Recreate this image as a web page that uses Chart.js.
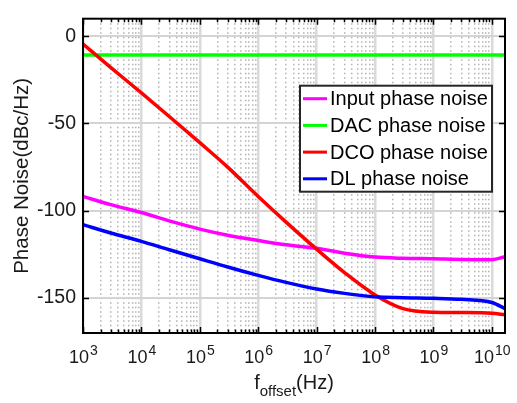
<!DOCTYPE html>
<html>
<head>
<meta charset="utf-8">
<script src="https://cdn.jsdelivr.net/npm/chart.js@4.4.1/dist/chart.umd.min.js"></script>
<style>
  html, body { margin: 0; padding: 0; background: #fff; }
  #wrap { width: 517px; height: 403px; }
</style>
</head>
<body>
<div id="wrap"><canvas id="pnChart" width="517" height="403"></canvas></div>
<script>
const freqs = [1e3, 3e3, 1e4, 3e4, 1e5, 3e5, 1e6, 3e6, 1e7, 3e7, 1e8, 3e8, 1e9, 3e9, 1e10, 1.68e10];

// phase noise, dBc/Hz
const inputPN = [-91.8, -96.5, -101, -105.8, -110.5, -114, -117, -119.5, -121.5, -124.3, -126.5, -127.2, -127.5, -127.9, -128, -126.3];
const dacPN   = [-10.8, -10.8, -10.8, -10.8, -10.8, -10.8, -10.8, -10.8, -10.8, -10.8, -10.8, -10.8, -10.8, -10.8, -10.8, -10.8];
const dcoPN   = [-4.5, -18, -32.5, -46, -61, -75, -91.8, -106.5, -122, -135.4, -148.2, -156, -158.1, -158.3, -158.7, -159.5];
const dlPN    = [-108, -112.7, -117.5, -122.3, -127.5, -132.2, -137, -141, -144.8, -147.3, -149.3, -149.8, -150.1, -150.7, -152.5, -156];

const seriesNames = ["Input phase noise", "DAC phase noise", "DCO phase noise", "DL phase noise"];
const seriesColors = ["#ff00ff", "#00ff00", "#ff0000", "#0000ff"];

const xDecades = [3, 4, 5, 6, 7, 8, 9, 10];
const yTicks = [-150, -100, -50, 0];

const FONT = "'Liberation Sans', Arial, Helvetica, sans-serif";

// all log ticks 1..9 x 10^n inside the axis range
const xAllTicks = [];
xDecades.forEach(e => {
  for (let m = 1; m <= 9; m++) {
    const v = m * Math.pow(10, e);
    if (v <= 1.68e10) xAllTicks.push(v);
  }
});
const isDecade = v => Math.abs(Math.log10(v) - Math.round(Math.log10(v))) < 1e-9;

const toPts = arr => arr.map((y, i) => ({ x: freqs[i], y: y }));
const allSeries = [inputPN, dacPN, dcoPN, dlPN];

const datasets = allSeries.map((arr, i) => ({
  label: seriesNames[i],
  data: toPts(arr),
  borderColor: seriesColors[i],
  backgroundColor: seriesColors[i],
  borderWidth: 3.5,
  pointRadius: 0,
  cubicInterpolationMode: "monotone",
  order: 3 - i   // last series drawn on top
}));

const framePlugin = {
  id: "frame",
  afterDatasetsDraw(chart) {
    const { ctx, chartArea: a, scales: { x, y } } = chart;
    ctx.save();
    ctx.strokeStyle = "#000";
    ctx.lineWidth = 2;
    ctx.strokeRect(a.left, a.top, a.right - a.left, a.bottom - a.top);

    // inward ticks
    ctx.lineWidth = 1.5;
    ctx.beginPath();
    xAllTicks.forEach(v => {
      const px = Math.round(x.getPixelForValue(v)) + 0.5;
      const len = isDecade(v) ? 6 : 3.5;
      ctx.moveTo(px, a.bottom); ctx.lineTo(px, a.bottom - len);
      ctx.moveTo(px, a.top); ctx.lineTo(px, a.top + len);
    });
    yTicks.forEach(v => {
      const py = Math.round(y.getPixelForValue(v)) + 0.5;
      ctx.moveTo(a.left, py); ctx.lineTo(a.left + 6, py);
      ctx.moveTo(a.right, py); ctx.lineTo(a.right - 6, py);
    });
    ctx.stroke();
    ctx.restore();
  },
  afterDraw(chart) {
    const { ctx, chartArea: a, scales: { x } } = chart;
    ctx.save();
    ctx.fillStyle = "#1a1a1a";
    ctx.textBaseline = "alphabetic";
    ctx.textAlign = "left";

    // x tick labels 10^n
    xDecades.forEach(e => {
      const px = x.getPixelForValue(Math.pow(10, e));
      ctx.font = "18px " + FONT;
      const wb = ctx.measureText("10").width;
      ctx.font = "14px " + FONT;
      const we = ctx.measureText(String(e)).width;
      const start = px - (wb + we) / 2;
      ctx.font = "18px " + FONT;
      ctx.fillText("10", start, a.bottom + 30);
      ctx.font = "14px " + FONT;
      ctx.fillText(String(e), start + wb + 1, a.bottom + 22);
    });

    // x axis title f_offset(Hz)
    ctx.font = "20px " + FONT;
    const wf = ctx.measureText("f").width;
    const wh = ctx.measureText("(Hz)").width;
    ctx.font = "15px " + FONT;
    const ws = ctx.measureText("offset").width;
    const cx = (a.left + a.right) / 2;
    let tx = cx - (wf + ws + wh) / 2;
    ctx.font = "20px " + FONT;
    ctx.fillText("f", tx, a.bottom + 56);
    ctx.font = "15px " + FONT;
    ctx.fillText("offset", tx + wf, a.bottom + 63);
    ctx.font = "20px " + FONT;
    ctx.fillText("(Hz)", tx + wf + ws, a.bottom + 56);

    // legend box
    const lw = 192, lh = 106;
    const lx = a.right - 13 - lw, ly = a.top + 67;
    ctx.fillStyle = "#fff";
    ctx.fillRect(lx, ly, lw, lh);
    ctx.strokeStyle = "#262626";
    ctx.lineWidth = 2;
    ctx.strokeRect(lx, ly, lw, lh);
    ctx.font = "20px " + FONT;
    ctx.textBaseline = "middle";
    chart.data.datasets.forEach((ds, i) => {
      const rowY = ly + 13 + i * 26.7;
      ctx.strokeStyle = ds.borderColor;
      ctx.lineWidth = 3;
      ctx.beginPath();
      ctx.moveTo(lx + 3, rowY); ctx.lineTo(lx + 27, rowY);
      ctx.stroke();
      ctx.fillStyle = "#000";
      ctx.fillText(ds.label, lx + 30, rowY + 1);
    });
    ctx.restore();
  }
};

new Chart(document.getElementById("pnChart"), {
  type: "line",
  data: { datasets: datasets },
  options: {
    responsive: false,
    animation: false,
    layout: { padding: { top: 10, right: 12, left: 0, bottom: 0 } },
    plugins: { legend: { display: false }, tooltip: { enabled: false } },
    scales: {
      x: {
        type: "logarithmic",
        min: 1e3,
        max: 1.68e10,
        afterBuildTicks: s => { s.ticks = xAllTicks.map(v => ({ value: v })); },
        afterFit: s => { s.height = 70; },
        ticks: { display: false },
        grid: {
          drawTicks: false,
          color: c => (c.tick && isDecade(c.tick.value)) ? "#dadada" : "#b2b2b2",
          lineWidth: c => (c.tick && isDecade(c.tick.value)) ? 2.5 : 1.5
        },
        border: {
          display: false,
          dash: c => (c.tick && isDecade(c.tick.value)) ? [] : [1.5, 3]
        }
      },
      y: {
        min: -170,
        max: 10,
        afterBuildTicks: s => { s.ticks = yTicks.map(v => ({ value: v })); },
        afterFit: s => { s.width = 83; },
        ticks: {
          color: "#1a1a1a",
          font: { family: FONT, size: 19.5 },
          padding: 7
        },
        grid: { drawTicks: false, color: "#d4d4d4", lineWidth: 2 },
        border: { display: false },
        title: {
          display: true,
          text: "Phase Noise(dBc/Hz)",
          color: "#1a1a1a",
          font: { family: FONT, size: 20.5 },
          padding: { top: 10, bottom: 0 }
        }
      }
    }
  },
  plugins: [framePlugin]
});
</script>
</body>
</html>
